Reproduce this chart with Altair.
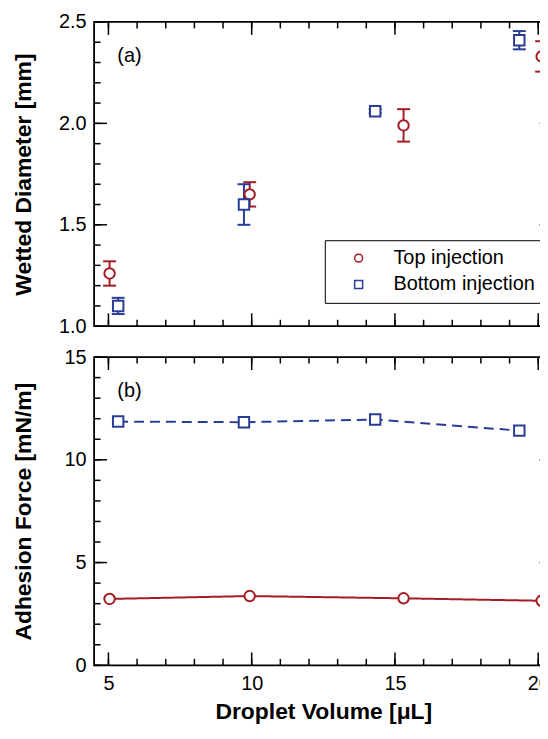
import altair as alt
import pandas as pd

# ---------------- data ----------------
series = ["Top injection", "Bottom injection"]
series_colors = ["#a51d24", "#2a3d96"]
series_shapes = ["circle", "square"]
series_dash = [[1, 0], [10, 6]]

vol_top = [5.04, 9.93, 15.30, 20.12]
vol_bottom = [5.34, 9.73, 14.31, 19.34]

diam_top = [1.26, 1.65, 1.99, 2.33]
diam_top_err = [0.06, 0.06, 0.08, 0.075]
diam_bottom = [1.10, 1.60, 2.06, 2.41]
diam_bottom_err = [0.04, 0.10, 0.01, 0.045]

force_top = [3.23, 3.37, 3.26, 3.14]
force_bottom = [11.86, 11.83, 11.96, 11.42]

panel_tags = ["(a)", "(b)"]
tag_x = [5.31, 5.31]
tag_y = [2.33, 13.34]

x_domain = [4.5, 20.5]
ya_domain = [1.0, 2.5]
yb_domain = [0, 15]

x_major = [5, 10, 15, 20]
x_minor = [5, 6, 7, 8, 9, 10, 11, 12, 13, 14, 15, 16, 17, 18, 19, 20]
ya_major = [1.0, 1.5, 2.0, 2.5]
ya_minor = [1.0, 1.1, 1.2, 1.3, 1.4, 1.5, 1.6, 1.7, 1.8, 1.9, 2.0, 2.1, 2.2, 2.3, 2.4, 2.5]
yb_major = [0, 5, 10, 15]
yb_minor = [0, 1, 2, 3, 4, 5, 6, 7, 8, 9, 10, 11, 12, 13, 14, 15]

FONT = "Liberation Sans"
MAJ = 13      # inward major tick length (px)
MIN = 6.5     # inward minor tick length (px)
W, HA, HB, GAP = 461, 306, 310, 31

# ---------------- tables ----------------
dfa = pd.DataFrame({
    "vol": vol_top + vol_bottom,
    "d": diam_top + diam_bottom,
    "err": diam_top_err + diam_bottom_err,
    "series": [series[0]] * len(vol_top) + [series[1]] * len(vol_bottom),
})
dfa["lo"] = dfa["d"] - dfa["err"]
dfa["hi"] = dfa["d"] + dfa["err"]

dfb = pd.DataFrame({
    "vol": vol_top + vol_bottom,
    "f": force_top + force_bottom,
    "series": [series[0]] * len(vol_top) + [series[1]] * len(vol_bottom),
})

tag_a = pd.DataFrame({"x": [tag_x[0]], "y": [tag_y[0]], "t": [panel_tags[0]]})
tag_b = pd.DataFrame({"x": [tag_x[1]], "y": [tag_y[1]], "t": [panel_tags[1]]})

# ---------------- scales / axes ----------------
xs = alt.Scale(domain=x_domain, nice=False, zero=False)
ysa = alt.Scale(domain=ya_domain, nice=False, zero=False)
ysb = alt.Scale(domain=yb_domain, nice=False, zero=False)
cscale = alt.Scale(domain=series, range=series_colors)
sscale = alt.Scale(domain=series, range=series_shapes)
dscale = alt.Scale(domain=series, range=series_dash)


def label_axis(orient, values, title, labels=True, **kw):
    return alt.Axis(orient=orient, values=values, ticks=False, tickSize=0,
                    domain=False, grid=False, labels=labels, labelFontSize=20,
                    labelColor="black", labelFont=FONT, labelPadding=8,
                    labelFlush=False, labelOverlap=False, title=title,
                    titleFontSize=23, titleFontWeight="bold", titleColor="black",
                    titleFont=FONT, **kw)


xa_axis = label_axis("bottom", x_major, None, labels=False)
ya_axis = label_axis("left", ya_major, "Wetted Diameter [mm]", format=".1f",
                     titleX=-59, titleBaseline="bottom", titleAngle=270)
xb_axis = label_axis("bottom", x_major, "Droplet Volume [μL]", format="d",
                     titleY=53, titleBaseline="alphabetic")
yb_axis = label_axis("left", yb_major, "Adhesion Force [mN/m]", format="d",
                     titleX=-59, titleBaseline="bottom", titleAngle=270)


def frame_ticks(xvals, yvals, ydom, size, ys, xax, yax):
    """Inward ticks on all four sides of the frame."""
    out = []
    dfx = pd.DataFrame({"v": xvals})
    dfy = pd.DataFrame({"v": yvals})
    for yd, off in ((ydom[0], -size / 2), (ydom[1], size / 2)):
        out.append(alt.Chart(dfx).mark_tick(
            orient="vertical", size=size, thickness=1.5, yOffset=off,
            color="black", opacity=1).encode(
            x=alt.X("v:Q", scale=xs, axis=xax),
            y=alt.YDatum(yd, type="quantitative", scale=ys, axis=yax)))
    for xd, off in ((x_domain[0], size / 2), (x_domain[1], -size / 2)):
        out.append(alt.Chart(dfy).mark_tick(
            orient="horizontal", size=size, thickness=1.5, xOffset=off,
            color="black", opacity=1).encode(
            x=alt.XDatum(xd, type="quantitative", scale=xs, axis=xax),
            y=alt.Y("v:Q", scale=ys, axis=yax)))
    return out


leg = alt.Legend(title=None, orient="none", legendX=232, legendY=219.5,
                 padding=8, symbolOffset=16, labelOffset=25, rowPadding=6.5,
                 strokeColor="black", fillColor="white", symbolSize=64,
                 symbolStrokeWidth=1.5, labelFontSize=20, labelFont=FONT,
                 labelColor="black", labelLimit=400)

# ---------------- panel (a) ----------------
base_a = alt.Chart(dfa)
err_layers = []
for i, name in enumerate(series):
    sub = base_a.transform_filter(alt.datum.series == name)
    err_layers.append(sub.mark_rule(strokeWidth=2, color=series_colors[i]).encode(
        x=alt.X("vol:Q", scale=xs, axis=xa_axis),
        y=alt.Y("lo:Q", scale=ysa, axis=ya_axis),
        y2="hi:Q"))
    for fld in ("lo", "hi"):
        err_layers.append(sub.mark_tick(orient="horizontal", size=13, thickness=2,
                                        color=series_colors[i], opacity=1).encode(
            x=alt.X("vol:Q", scale=xs, axis=xa_axis),
            y=alt.Y(f"{fld}:Q", scale=ysa, axis=ya_axis)))

pts_a = base_a.mark_point(size=110, strokeWidth=2, fill="white", filled=False,
                          opacity=1).encode(
    x=alt.X("vol:Q", scale=xs, axis=xa_axis),
    y=alt.Y("d:Q", scale=ysa, axis=ya_axis),
    color=alt.Color("series:N", scale=cscale, legend=leg),
    shape=alt.Shape("series:N", scale=sscale, legend=leg),
)
txt_a = alt.Chart(tag_a).mark_text(align="left", baseline="middle", fontSize=20,
                                   font=FONT, color="black").encode(
    x=alt.X("x:Q", scale=xs, axis=xa_axis),
    y=alt.Y("y:Q", scale=ysa, axis=ya_axis),
    text="t:N",
)
ticks_a = (frame_ticks(x_major, ya_major, ya_domain, MAJ, ysa, xa_axis, ya_axis)
           + frame_ticks(x_minor, ya_minor, ya_domain, MIN, ysa, xa_axis, ya_axis))
panel_a = alt.layer(*ticks_a, *err_layers, pts_a, txt_a).properties(
    width=W, height=HA)

# ---------------- panel (b) ----------------
base_b = alt.Chart(dfb)
lines_b = base_b.mark_line(strokeWidth=2).encode(
    x=alt.X("vol:Q", scale=xs, axis=xb_axis),
    y=alt.Y("f:Q", scale=ysb, axis=yb_axis),
    stroke=alt.Stroke("series:N", scale=cscale, legend=None),
    strokeDash=alt.StrokeDash("series:N", scale=dscale, legend=None),
)
pts_b = []
for i, name in enumerate(series):
    pts_b.append(base_b.transform_filter(alt.datum.series == name).mark_point(
        shape=series_shapes[i], size=110, strokeWidth=2, fill="white",
        filled=False, opacity=1, stroke=series_colors[i]).encode(
        x=alt.X("vol:Q", scale=xs, axis=xb_axis),
        y=alt.Y("f:Q", scale=ysb, axis=yb_axis)))
txt_b = alt.Chart(tag_b).mark_text(align="left", baseline="middle", fontSize=20,
                                   font=FONT, color="black").encode(
    x=alt.X("x:Q", scale=xs, axis=xb_axis),
    y=alt.Y("y:Q", scale=ysb, axis=yb_axis),
    text="t:N",
)
ticks_b = (frame_ticks(x_major, yb_major, yb_domain, MAJ, ysb, xb_axis, yb_axis)
           + frame_ticks(x_minor, yb_minor, yb_domain, MIN, ysb, xb_axis, yb_axis))
panel_b = alt.layer(*ticks_b, lines_b, *pts_b, txt_b).properties(
    width=W, height=HB)

# Padding trimmed so the canvas (about 535 x 715) fits the page without scrolling;
# the right edge of the frame falls outside it, as in the cropped original figure.
chart = alt.vconcat(panel_a, panel_b, spacing=GAP, bounds="flush").resolve_legend(
    color="independent", shape="independent", stroke="independent",
    strokeDash="independent"
).properties(
    padding={"left": 3.6, "top": 1.0, "right": -13.6, "bottom": -1}
).configure(font=FONT, background="white").configure_view(
    stroke="black", strokeWidth=1.8)

chart.save("out.html", embed_options={"renderer": "svg", "actions": False})
